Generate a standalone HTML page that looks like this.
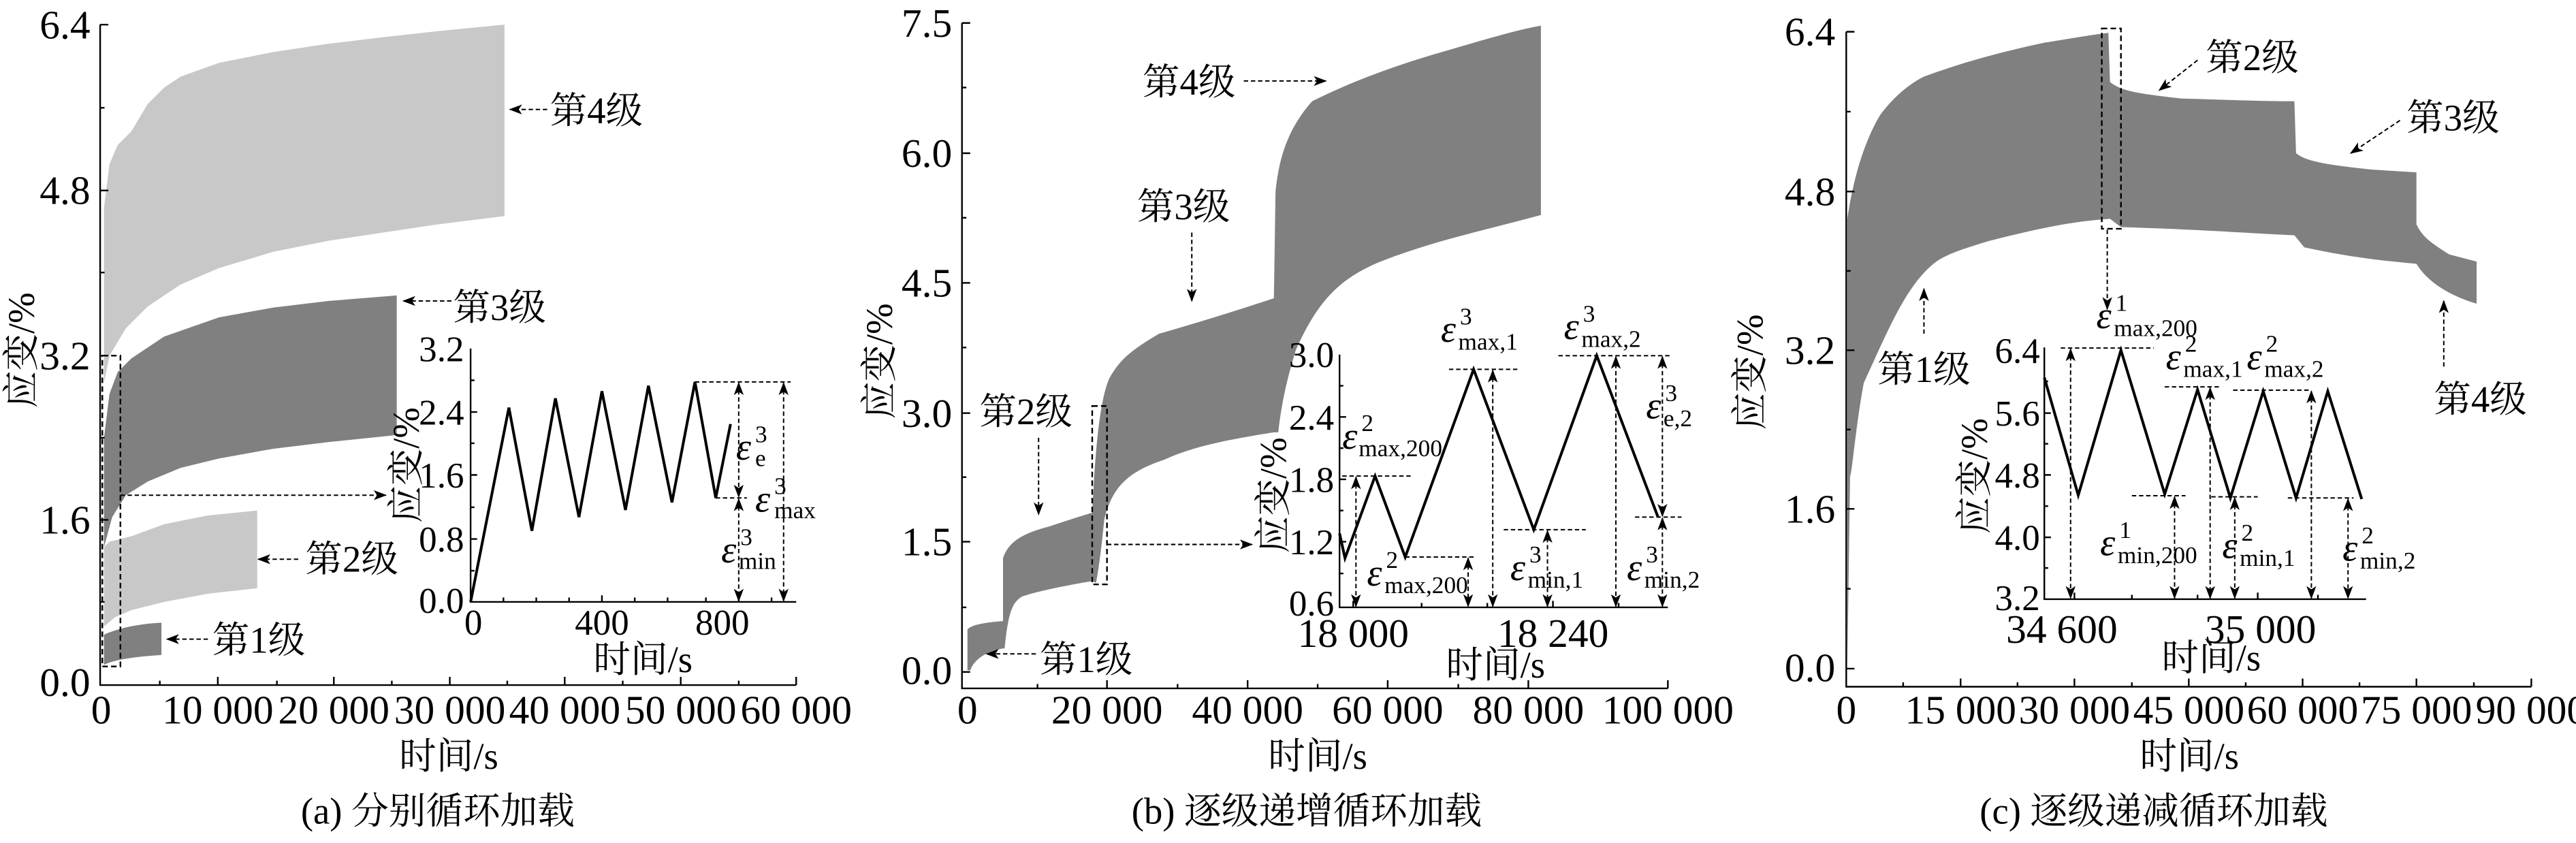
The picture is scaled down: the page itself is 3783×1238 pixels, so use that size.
<!DOCTYPE html>
<html><head><meta charset="utf-8">
<style>
html,body{margin:0;padding:0;background:#fff;}
svg{display:block;}
text{font-family:"Liberation Serif","Noto Serif CJK SC","Noto Sans CJK SC",serif;fill:#000;}
.t{font-size:74px;}
.ti{font-size:66px;}
.cn{font-size:68px;}
.e{font-style:italic;font-size:70px;}
.s{font-size:44px;}
</style></head>
<body>
<svg width="3783" height="1238" viewBox="0 0 4707.6 1540.6" xmlns="http://www.w3.org/2000/svg">
<defs>
<marker id="ar" markerUnits="userSpaceOnUse" markerWidth="24" markerHeight="18" refX="22" refY="9" orient="auto">
<path d="M0,0 L24,9 L0,18 L6,9 z" fill="#000"/></marker>
<marker id="as" markerUnits="userSpaceOnUse" markerWidth="24" markerHeight="18" refX="2" refY="9" orient="auto">
<path d="M24,0 L0,9 L24,18 L18,9 z" fill="#000"/></marker>
</defs>
<rect width="4707.6" height="1540.6" fill="#fff"/>

<!-- ================= PANEL A ================= -->
<g>
<path d="M190,700 L190,380 L200,300 L215,265 L240,240 L270,190 L300,160 L330,140 L400,115 L500,95 L600,80 L700,68 L800,57 L922,45 L922,395 L800,410 L700,425 L600,440 L500,460 L400,490 L330,520 L270,560 L230,600 L200,650 Z" fill="#c8c8c8"/>
<path d="M190,1000 L190,800 L200,720 L215,680 L240,655 L300,615 L400,580 L500,562 L600,550 L725,540 L725,795 L600,808 L500,820 L400,838 L330,855 L270,880 L230,905 L205,945 Z" fill="#808080"/>
<path d="M190,1145 L190,1000 L200,990 L240,980 L300,958 L380,942 L470,933 L470,1075 L380,1085 L300,1100 L240,1115 L210,1128 Z" fill="#c8c8c8"/>
<path d="M190,1215 L190,1160 C210,1150 250,1140 295,1138 L295,1197 C250,1200 210,1205 190,1215 Z" fill="#808080"/>
<path d="M183,45 V1252 H1455" fill="none" stroke="#000" stroke-width="3"/>
<path d="M183,45h15M183,348h15M183,650h15M183,950h15M183,197h8M183,498h8M183,800h8M183,1100h8
M398,1252v-15M610,1252v-15M822,1252v-15M1032,1252v-15M1244,1252v-15M1455,1252v-15
M292,1252v-8M506,1252v-8M716,1252v-8M927,1252v-8M1138,1252v-8M1350,1252v-8" stroke="#000" stroke-width="3"/>
<g class="t" text-anchor="end"><text x="165" y="70">6.4</text><text x="165" y="373">4.8</text><text x="165" y="675">3.2</text><text x="165" y="975">1.6</text><text x="165" y="1272">0.0</text></g>
<g class="t" text-anchor="middle"><text x="185" y="1322">0</text><text x="398" y="1322">10 000</text><text x="610" y="1322">20 000</text><text x="822" y="1322">30 000</text><text x="1032" y="1322">40 000</text><text x="1244" y="1322">50 000</text><text x="1455" y="1322">60 000</text></g>
<text class="cn" x="820" y="1405" text-anchor="middle">时间/s</text>
<text class="cn" x="800" y="1505" text-anchor="middle">(a) 分别循环加载</text>
<text class="cn" transform="translate(62,640) rotate(-90)" text-anchor="middle">应变/%</text>
<rect x="187" y="650" width="33" height="568" fill="none" stroke="#000" stroke-width="3" stroke-dasharray="10,6"/>
<g stroke="#000" stroke-width="2.5" stroke-dasharray="8,5" fill="none">
<path d="M220,905 H705" marker-end="url(#ar)"/>
<path d="M1000,200 H932" marker-end="url(#ar)"/>
<path d="M825,550 H737" marker-end="url(#ar)"/>
<path d="M545,1022 H472" marker-end="url(#ar)"/>
<path d="M380,1168 H305" marker-end="url(#ar)"/>
</g>
<g class="cn"><text x="1005" y="225">第4级</text><text x="828" y="585">第3级</text><text x="558" y="1045">第2级</text><text x="388" y="1193">第1级</text></g>
<!-- inset a -->
<path d="M860,637 V1100 H1455" fill="none" stroke="#000" stroke-width="3"/>
<path d="M860,753h12M860,868h12M860,985h12M860,695h7M860,810h7M860,927h7M860,1043h7
M920,1100v-8M980,1100v-8M1040,1100v-8M1100,1100v-12M1160,1100v-8M1220,1100v-8M1290,1100v-8M1350,1100v-12M1410,1100v-8" stroke="#000" stroke-width="3"/>
<g class="ti" text-anchor="end"><text x="848" y="660">3.2</text><text x="848" y="776">2.4</text><text x="848" y="891">1.6</text><text x="848" y="1008">0.8</text><text x="848" y="1120">0.0</text></g>
<g class="ti" text-anchor="middle"><text x="865" y="1160">0</text><text x="1100" y="1160">400</text><text x="1320" y="1160">800</text></g>
<text class="cn" x="1175" y="1228" text-anchor="middle">时间/s</text>
<text class="cn" transform="translate(765,850) rotate(-90)" text-anchor="middle">应变/%</text>
<polyline points="860,1100 930,745 972,970 1015,728 1058,945 1100,715 1143,932 1185,705 1228,918 1270,698 1308,910 1335,775" fill="none" stroke="#000" stroke-width="5"/>
<g stroke="#000" stroke-width="2.5" stroke-dasharray="8,5" fill="none">
<path d="M1270,698 H1445"/><path d="M1308,910 H1365"/>
<path d="M1350,700 V908" marker-start="url(#as)" marker-end="url(#ar)"/>
<path d="M1350,912 V1098" marker-start="url(#as)" marker-end="url(#ar)"/>
<path d="M1432,700 V1098" marker-start="url(#as)" marker-end="url(#ar)"/>
</g>
<text class="e" x="1345" y="840">ε</text><text class="s" x="1380" y="808">3</text><text class="s" x="1380" y="852">e</text>
<text class="e" x="1380" y="935">ε</text><text class="s" x="1415" y="903">3</text><text class="s" x="1415" y="947">max</text>
<text class="e" x="1318" y="1028">ε</text><text class="s" x="1353" y="996">3</text><text class="s" x="1350" y="1040">min</text>
</g>

<!-- ================= PANEL B ================= -->
<g transform="translate(1568,0)">
<path d="M200,1225 L200,1150 C210,1140 240,1137 265,1135 L265,1020 C275,990 300,975 350,962 C380,952 410,942 428,937
L430,900 C435,800 445,720 460,690 C480,655 500,640 550,610 C620,590 700,565 760,545
L763,350 C770,280 790,230 830,185 C880,160 950,130 1050,100 C1120,80 1200,55 1248,47
L1248,393 C1150,420 1050,440 950,480 C880,510 840,550 800,640 C785,690 775,730 768,790
L760,790 C700,800 620,812 560,840 C500,860 465,885 450,950 C445,1000 440,1040 435,1065 L428,1062
C380,1070 330,1080 300,1090 C285,1100 275,1110 268,1185 L265,1185 C240,1190 215,1200 205,1225 Z" fill="#808080"/>
<path d="M190,42 V1258 H1480" fill="none" stroke="#000" stroke-width="3"/>
<path d="M190,42h15M190,280h15M190,517h15M190,755h15M190,990h15M190,1228h15M190,160h8M190,398h8M190,635h8M190,872h8M190,1110h8
M455,1258v-15M712,1258v-15M968,1258v-15M1225,1258v-15M1480,1258v-15M328,1258v-8M584,1258v-8M840,1258v-8M1097,1258v-8" stroke="#000" stroke-width="3"/>
<g class="t" text-anchor="end"><text x="172" y="67">7.5</text><text x="172" y="305">6.0</text><text x="172" y="542">4.5</text><text x="172" y="780">3.0</text><text x="172" y="1015">1.5</text><text x="172" y="1250">0.0</text></g>
<g class="t" text-anchor="middle"><text x="200" y="1322">0</text><text x="455" y="1322">20 000</text><text x="712" y="1322">40 000</text><text x="968" y="1322">60 000</text><text x="1225" y="1322">80 000</text><text x="1480" y="1322">100 000</text></g>
<text class="cn" x="840" y="1405" text-anchor="middle">时间/s</text>
<text class="cn" x="820" y="1505" text-anchor="middle">(b) 逐级递增循环加载</text>
<text class="cn" transform="translate(62,660) rotate(-90)" text-anchor="middle">应变/%</text>
<rect x="428" y="742" width="27" height="326" fill="none" stroke="#000" stroke-width="3" stroke-dasharray="10,6"/>
<g stroke="#000" stroke-width="2.5" stroke-dasharray="8,5" fill="none">
<path d="M455,995 H720" marker-end="url(#ar)"/>
<path d="M705,148 H855" marker-end="url(#ar)"/>
<path d="M610,425 V550" marker-end="url(#ar)"/>
<path d="M330,800 V940" marker-end="url(#ar)"/>
<path d="M325,1195 H235" marker-end="url(#ar)"/>
</g>
<g class="cn"><text x="520" y="173">第4级</text><text x="510" y="401">第3级</text><text x="222" y="775">第2级</text><text x="332" y="1228">第1级</text></g>
<!-- inset b -->
<path d="M880,648 V1110 H1480" fill="none" stroke="#000" stroke-width="3"/>
<path d="M880,762h12M880,876h12M880,990h12M880,705h7M880,819h7M880,933h7M880,1048h7
M905,1110v-12M1030,1110v-8M1150,1110v-8M1270,1110v-12M1390,1110v-8" stroke="#000" stroke-width="3"/>
<g class="ti" text-anchor="end"><text x="870" y="671">3.0</text><text x="870" y="785">2.4</text><text x="870" y="899">1.8</text><text x="870" y="1013">1.2</text><text x="870" y="1125">0.6</text></g>
<g class="t" text-anchor="middle"><text x="905" y="1182">18 000</text><text x="1270" y="1182">18 240</text></g>
<text class="cn" x="1165" y="1238" text-anchor="middle">时间/s</text>
<text class="cn" transform="translate(782,905) rotate(-90)" text-anchor="middle">应变/%</text>
<polyline points="880,975 890,1020 945,870 1000,1018 1125,675 1235,968 1350,650 1462,945" fill="none" stroke="#000" stroke-width="5"/>
<g stroke="#000" stroke-width="2.5" stroke-dasharray="8,5" fill="none">
<path d="M885,870H1015M1000,1018H1125M1080,675H1210M1180,968H1330M1280,650H1485M1420,945H1505"/>
<path d="M910,872 V1108" marker-start="url(#as)" marker-end="url(#ar)"/>
<path d="M1115,1020 V1108" marker-start="url(#as)" marker-end="url(#ar)"/>
<path d="M1160,677 V1108" marker-start="url(#as)" marker-end="url(#ar)"/>
<path d="M1260,970 V1108" marker-start="url(#as)" marker-end="url(#ar)"/>
<path d="M1385,652 V1108" marker-start="url(#as)" marker-end="url(#ar)"/>
<path d="M1470,652 V943" marker-start="url(#as)" marker-end="url(#ar)"/>
<path d="M1470,947 V1108" marker-start="url(#as)" marker-end="url(#ar)"/>
</g>
<text class="e" x="885" y="820">ε</text><text class="s" x="920" y="788">2</text><text class="s" x="915" y="834">max,200</text>
<text class="e" x="930" y="1070">ε</text><text class="s" x="965" y="1038">2</text><text class="s" x="962" y="1084">max,200</text>
<text class="e" x="1065" y="625">ε</text><text class="s" x="1100" y="593">3</text><text class="s" x="1097" y="639">max,1</text>
<text class="e" x="1192" y="1060">ε</text><text class="s" x="1227" y="1028">3</text><text class="s" x="1224" y="1074">min,1</text>
<text class="e" x="1290" y="620">ε</text><text class="s" x="1325" y="588">3</text><text class="s" x="1322" y="634">max,2</text>
<text class="e" x="1440" y="765">ε</text><text class="s" x="1475" y="733">3</text><text class="s" x="1472" y="779">e,2</text>
<text class="e" x="1405" y="1060">ε</text><text class="s" x="1440" y="1028">3</text><text class="s" x="1437" y="1074">min,2</text>
</g>

<!-- ================= PANEL C ================= -->
<g transform="translate(3136,0)">
<path d="M240,1220 L240,400 C250,330 270,260 300,210 C330,170 360,150 380,140 C450,115 500,100 600,78 C650,70 690,63 717,60
L720,150 C740,165 760,170 850,180 C950,183 1000,185 1057,185 L1060,280 C1075,292 1100,300 1200,310 L1280,315
L1280,410 C1290,430 1300,440 1340,465 L1390,478 L1390,555 C1340,540 1300,515 1280,482
C1200,475 1150,468 1075,452 L1057,430 C950,425 900,420 740,415 L720,400
C650,405 600,415 500,440 C450,455 420,465 400,480 C350,520 320,590 270,700 C255,780 248,870 245,870 Z" fill="#808080"/>
<path d="M238,58 V1255 H1490" fill="none" stroke="#000" stroke-width="3"/>
<path d="M238,58h15M238,350h15M238,640h15M238,930h15M238,1222h15M238,204h8M238,495h8M238,785h8M238,1076h8
M447,1255v-15M655,1255v-15M864,1255v-15M1072,1255v-15M1280,1255v-15M1490,1255v-15M342,1255v-8M551,1255v-8M760,1255v-8M968,1255v-8M1176,1255v-8M1385,1255v-8" stroke="#000" stroke-width="3"/>
<g class="t" text-anchor="end"><text x="218" y="83">6.4</text><text x="218" y="375">4.8</text><text x="218" y="665">3.2</text><text x="218" y="955">1.6</text><text x="218" y="1245">0.0</text></g>
<g class="t" text-anchor="middle"><text x="238" y="1322">0</text><text x="447" y="1322">15 000</text><text x="655" y="1322">30 000</text><text x="864" y="1322">45 000</text><text x="1072" y="1322">60 000</text><text x="1280" y="1322">75 000</text><text x="1490" y="1322">90 000</text></g>
<text class="cn" x="865" y="1405" text-anchor="middle">时间/s</text>
<text class="cn" x="800" y="1505" text-anchor="middle">(c) 逐级递减循环加载</text>
<text class="cn" transform="translate(85,680) rotate(-90)" text-anchor="middle">应变/%</text>
<rect x="705" y="52" width="35" height="366" fill="none" stroke="#000" stroke-width="3" stroke-dasharray="10,6"/>
<g stroke="#000" stroke-width="2.5" stroke-dasharray="8,5" fill="none">
<path d="M715,420 V565" marker-end="url(#ar)"/>
<path d="M880,110 L810,165" marker-end="url(#ar)"/>
<path d="M1250,220 L1160,280" marker-end="url(#ar)"/>
<path d="M380,610 V528" marker-end="url(#ar)"/>
<path d="M1330,670 V550" marker-end="url(#ar)"/>
</g>
<g class="cn"><text x="895" y="128">第2级</text><text x="1262" y="238">第3级</text><text x="295" y="698">第1级</text><text x="1312" y="753">第4级</text></g>
<!-- inset c -->
<path d="M600,635 V1095 H1188" fill="none" stroke="#000" stroke-width="3"/>
<path d="M600,755h12M600,868h12M600,982h12M600,697h7M600,811h7M600,925h7M600,1038h7
M655,1095v-12M760,1095v-8M880,1095v-8M990,1095v-12M1100,1095v-8" stroke="#000" stroke-width="3"/>
<g class="ti" text-anchor="end"><text x="592" y="663">6.4</text><text x="592" y="778">5.6</text><text x="592" y="891">4.8</text><text x="592" y="1005">4.0</text><text x="592" y="1115">3.2</text></g>
<g class="t" text-anchor="middle"><text x="632" y="1175">34 600</text><text x="995" y="1175">35 000</text></g>
<text class="cn" x="905" y="1225" text-anchor="middle">时间/s</text>
<text class="cn" transform="translate(495,870) rotate(-90)" text-anchor="middle">应变/%</text>
<polyline points="600,690 662,905 740,640 820,903 880,712 940,910 1000,715 1060,910 1118,715 1180,912" fill="none" stroke="#000" stroke-width="5"/>
<g stroke="#000" stroke-width="2.5" stroke-dasharray="8,5" fill="none">
<path d="M630,636H800M760,906H858M820,707H920M905,908H990M945,713H1085M1045,910H1165"/>
<path d="M648,638 V1093" marker-start="url(#as)" marker-end="url(#ar)"/>
<path d="M838,908 V1093" marker-start="url(#as)" marker-end="url(#ar)"/>
<path d="M903,709 V1093" marker-start="url(#as)" marker-end="url(#ar)"/>
<path d="M948,910 V1093" marker-start="url(#as)" marker-end="url(#ar)"/>
<path d="M1088,715 V1093" marker-start="url(#as)" marker-end="url(#ar)"/>
<path d="M1155,912 V1093" marker-start="url(#as)" marker-end="url(#ar)"/>
</g>
<text class="e" x="695" y="600">ε</text><text class="s" x="730" y="568">1</text><text class="s" x="727" y="614">max,200</text>
<text class="e" x="822" y="675">ε</text><text class="s" x="857" y="643">2</text><text class="s" x="854" y="689">max,1</text>
<text class="e" x="970" y="675">ε</text><text class="s" x="1005" y="643">2</text><text class="s" x="1002" y="689">max,2</text>
<text class="e" x="702" y="1015">ε</text><text class="s" x="737" y="983">1</text><text class="s" x="734" y="1029">min,200</text>
<text class="e" x="925" y="1020">ε</text><text class="s" x="960" y="988">2</text><text class="s" x="957" y="1034">min,1</text>
<text class="e" x="1145" y="1025">ε</text><text class="s" x="1180" y="993">2</text><text class="s" x="1177" y="1039">min,2</text>
</g>
</svg>
</body></html>
